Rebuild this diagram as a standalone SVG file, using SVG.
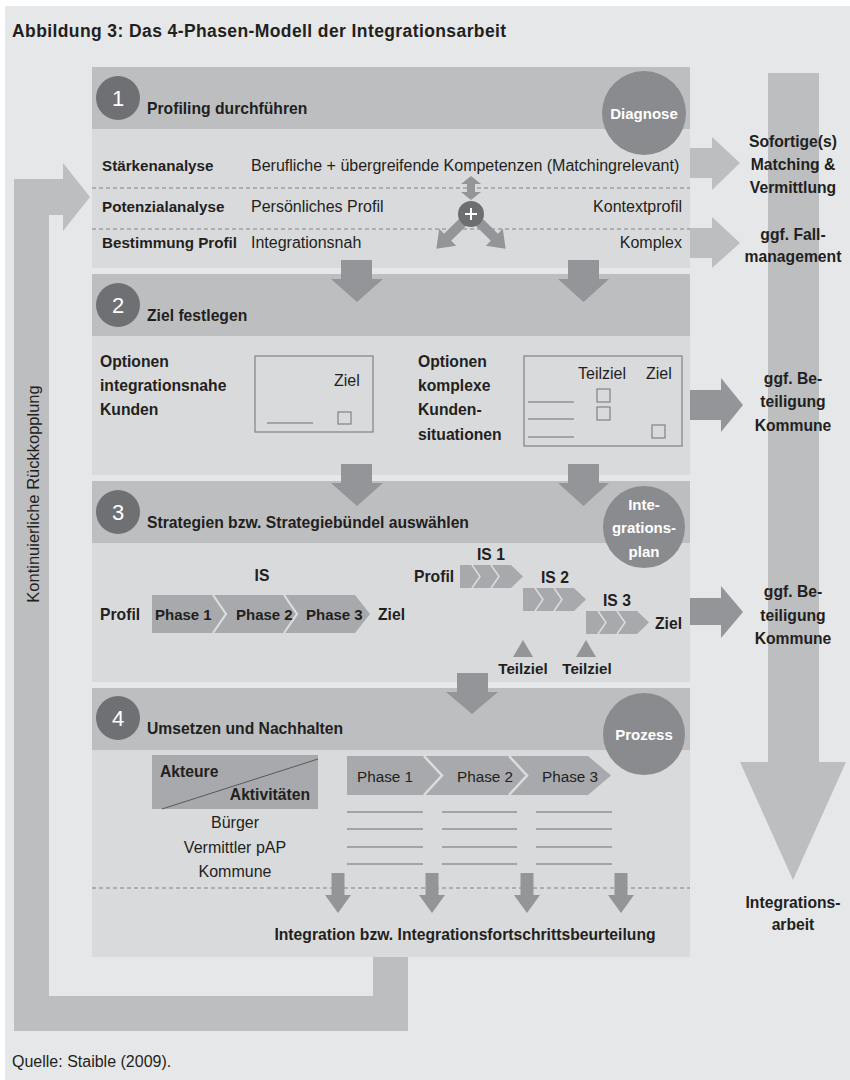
<svg xmlns="http://www.w3.org/2000/svg" width="850" height="1080" viewBox="0 0 850 1080">
<style>
text{font-family:"Liberation Sans",Arial,sans-serif;fill:#231f20}
.b{font-size:15.7px;font-weight:bold}
.r{font-size:16px}
.c{text-anchor:middle}
.e{text-anchor:end}
.w{fill:#ffffff;font-weight:bold;font-size:15px;text-anchor:middle}
.num{fill:#ffffff;font-size:22px;text-anchor:middle}
.band{fill:#bcbec0}
.body{fill:#d9dadc}
.numc{fill:#6f7073}
.bigc{fill:#8a8b8e}
.dark{fill:#939598}
.light{fill:#bcbec0}
.chev{fill:#a7a9ac}
.sep{fill:none;stroke:#dcdddf;stroke-width:2.2}
.dash{stroke:#808285;stroke-width:1;stroke-dasharray:4 3}
.box{fill:none;stroke:#808285;stroke-width:1.2}
.ln{stroke:#6d6e71;stroke-width:1.2}
</style>
<rect x="5" y="6" width="845" height="1074" fill="#e6e7e8"/>
<text x="12" y="37" style="font-size:17.5px;font-weight:bold;letter-spacing:0.4px">Abbildung 3: Das 4-Phasen-Modell der Integrationsarbeit</text>

<g id="feedback-loop">
<path class="light" d="M14,1031 L408,1031 L408,957 L373,957 L373,996 L49,996 L49,215 L63,215 L63,231 L90,197 L63,163 L63,179 L14,179 Z"/>
<text class="r" transform="translate(39,494) rotate(-90)" text-anchor="middle" style="font-size:16.5px">Kontinuierliche Rückkopplung</text>
</g>

<g id="integrationsarbeit">
<path class="light" d="M768,73 L819,73 L819,762 L846,762 L793,880 L740,762 L768,762 Z"/>
</g>

<g id="phase1">
<rect class="band" x="92" y="67" width="598" height="62"/>
<rect class="body" x="92" y="129" width="598" height="139"/>
<circle class="numc" cx="118" cy="98" r="22"/>
<text class="num" x="118" y="106">1</text>
<text class="b" x="147" y="114">Profiling durchführen</text>
<line class="dash" x1="92" y1="188" x2="690" y2="188"/>
<line class="dash" x1="92" y1="229" x2="690" y2="229"/>
<text class="b" x="102" y="171" style="font-size:15.2px">Stärkenanalyse</text>
<text class="b" x="102" y="212" style="font-size:15.2px">Potenzialanalyse</text>
<text class="b" x="102" y="248" style="font-size:15.2px">Bestimmung Profil</text>
<text class="r" x="251" y="171">Berufliche + übergreifende Kompetenzen (Matchingrelevant)</text>
<text class="r" x="251" y="212">Persönliches Profil</text>
<text class="r" x="251" y="248">Integrationsnah</text>
<text class="r e" x="682" y="212">Kontextprofil</text>
<text class="r e" x="682" y="248">Komplex</text>
<path class="dark" d="M471,176 L481,184 L475,184 L475,192 L481,192 L471,200 L461,192 L467,192 L467,184 L461,184 Z"/>
<path class="dark" transform="translate(471,214) rotate(135)" d="M12,-5 L33,-5 L33,-12 L49,0 L33,12 L33,5 L12,5 Z"/>
<path class="dark" transform="translate(471,214) rotate(45)" d="M12,-5 L33,-5 L33,-12 L49,0 L33,12 L33,5 L12,5 Z"/>
<circle cx="471" cy="214" r="13" fill="#6d6e71"/>
<path d="M471,208 V220 M465,214 H477" stroke="#ffffff" stroke-width="2"/>
<circle class="bigc" cx="644" cy="113" r="42"/>
<text class="w" x="644" y="119">Diagnose</text>
</g>

<g id="phase2">
<rect class="band" x="92" y="274" width="598" height="62"/>
<rect class="body" x="92" y="336" width="598" height="139"/>
<circle class="numc" cx="118" cy="305" r="22"/>
<text class="num" x="118" y="313">2</text>
<text class="b" x="147" y="321">Ziel festlegen</text>
<text class="b" x="100" y="367">Optionen</text>
<text class="b" x="100" y="391">integrationsnahe</text>
<text class="b" x="100" y="415">Kunden</text>
<rect class="box" x="255" y="356" width="118" height="76"/>
<text class="r" x="334" y="386">Ziel</text>
<line class="ln" x1="267" y1="423" x2="313" y2="423"/>
<rect class="box" x="338" y="412" width="13" height="12"/>
<text class="b" x="418" y="367">Optionen</text>
<text class="b" x="418" y="391">komplexe</text>
<text class="b" x="418" y="415">Kunden-</text>
<text class="b" x="418" y="440">situationen</text>
<rect class="box" x="524" y="356" width="158" height="90"/>
<text class="r" x="578" y="379">Teilziel</text>
<text class="r" x="646" y="379">Ziel</text>
<line class="ln" x1="528" y1="402" x2="574" y2="402"/>
<line class="ln" x1="528" y1="419" x2="574" y2="419"/>
<line class="ln" x1="528" y1="437" x2="574" y2="437"/>
<rect class="box" x="597" y="389" width="13" height="13"/>
<rect class="box" x="597" y="407" width="13" height="13"/>
<rect class="box" x="652" y="425" width="13" height="13"/>
</g>

<g id="phase3">
<rect class="band" x="92" y="481" width="598" height="62"/>
<rect class="body" x="92" y="543" width="598" height="139"/>
<circle class="numc" cx="118" cy="512" r="22"/>
<text class="num" x="118" y="520">3</text>
<text class="b" x="147" y="528">Strategien bzw. Strategiebündel auswählen</text>
<text class="b c" x="262" y="581">IS</text>
<text class="b" x="100" y="620">Profil</text>
<path class="chev" d="M152,595 L355,595 L370,614 L355,633 L152,633 Z"/>
<polyline class="sep" points="213,595 226,614 213,633"/>
<polyline class="sep" points="284,595 297,614 284,633"/>
<text class="b" x="155" y="620" style="font-size:15px">Phase 1</text>
<text class="b" x="236" y="620" style="font-size:15px">Phase 2</text>
<text class="b" x="306" y="620" style="font-size:15px">Phase 3</text>
<text class="b" x="378" y="620">Ziel</text>
<text class="b" x="477" y="560">IS 1</text>
<text class="b" x="414" y="582">Profil</text>
<g id="is1">
<path class="chev" d="M460,565 L511,565 L523,576.5 L511,588 L460,588 Z"/>
<polyline class="sep" points="472,565 480,576.5 472,588" style="stroke-width:1.5"/>
<polyline class="sep" points="491,565 499,576.5 491,588" style="stroke-width:1.5"/>
</g>
<text class="b" x="541" y="583">IS 2</text>
<g id="is2" transform="translate(63,23)">
<path class="chev" d="M460,565 L511,565 L523,576.5 L511,588 L460,588 Z"/>
<polyline class="sep" points="472,565 480,576.5 472,588" style="stroke-width:1.5"/>
<polyline class="sep" points="491,565 499,576.5 491,588" style="stroke-width:1.5"/>
</g>
<text class="b" x="603" y="606">IS 3</text>
<g id="is3" transform="translate(126,46)">
<path class="chev" d="M460,565 L511,565 L523,576.5 L511,588 L460,588 Z"/>
<polyline class="sep" points="472,565 480,576.5 472,588" style="stroke-width:1.5"/>
<polyline class="sep" points="491,565 499,576.5 491,588" style="stroke-width:1.5"/>
</g>
<text class="b" x="655" y="629">Ziel</text>
<path class="dark" d="M523,640 L533,657 L513,657 Z"/>
<path class="dark" d="M586,640 L596,657 L576,657 Z"/>
<text class="b c" x="523" y="674" style="font-size:15.2px">Teilziel</text>
<text class="b c" x="587" y="674" style="font-size:15.2px">Teilziel</text>
<circle class="bigc" cx="644" cy="527" r="41"/>
<text class="w" x="644" y="510">Inte-</text>
<text class="w" x="644" y="533">grations-</text>
<text class="w" x="644" y="557">plan</text>
</g>

<g id="phase4">
<rect class="band" x="92" y="688" width="598" height="62"/>
<rect class="body" x="92" y="750" width="598" height="207"/>
<circle class="numc" cx="118" cy="718" r="22"/>
<text class="num" x="118" y="726">4</text>
<text class="b" x="147" y="734">Umsetzen und Nachhalten</text>
<circle class="bigc" cx="644" cy="734" r="41"/>
<text class="w" x="644" y="740">Prozess</text>
<rect class="chev" x="152" y="755" width="166" height="54"/>
<line x1="162" y1="809" x2="318" y2="759" stroke="#58595b" stroke-width="1"/>
<text class="b" x="160" y="777">Akteure</text>
<text class="b e" x="310" y="800">Aktivitäten</text>
<text class="r c" x="235" y="828">Bürger</text>
<text class="r c" x="235" y="853">Vermittler pAP</text>
<text class="r c" x="235" y="877">Kommune</text>
<path class="chev" d="M347,756 L588,756 L611,775.5 L588,795 L347,795 Z"/>
<polyline class="sep" points="424,756 442,775.5 424,795" style="stroke-width:2.5"/>
<polyline class="sep" points="509,756 527,775.5 509,795" style="stroke-width:2.5"/>
<text class="r" x="357" y="782" style="font-size:15.3px">Phase 1</text>
<text class="r" x="457" y="782" style="font-size:15.3px">Phase 2</text>
<text class="r" x="542" y="782" style="font-size:15.3px">Phase 3</text>
<g id="activity-lines">
<line class="ln" x1="347" y1="812" x2="423" y2="812"/>
<line class="ln" x1="347" y1="829" x2="423" y2="829"/>
<line class="ln" x1="347" y1="847" x2="423" y2="847"/>
<line class="ln" x1="347" y1="864" x2="423" y2="864"/>
<line class="ln" x1="442" y1="812" x2="517" y2="812"/>
<line class="ln" x1="442" y1="829" x2="517" y2="829"/>
<line class="ln" x1="442" y1="847" x2="517" y2="847"/>
<line class="ln" x1="442" y1="864" x2="517" y2="864"/>
<line class="ln" x1="536" y1="812" x2="612" y2="812"/>
<line class="ln" x1="536" y1="829" x2="612" y2="829"/>
<line class="ln" x1="536" y1="847" x2="612" y2="847"/>
<line class="ln" x1="536" y1="864" x2="612" y2="864"/>
</g>
<line class="dash" x1="92" y1="888" x2="690" y2="888"/>
<text class="b c" x="465" y="940">Integration bzw. Integrationsfortschrittsbeurteilung</text>
</g>

<g id="connectors">
<path class="light" d="M690,148 L712,148 L712,137 L740,163 L712,190 L712,178 L690,178 Z"/>
<path class="light" d="M690,228 L712,228 L712,217 L740,243 L712,268 L712,258 L690,258 Z"/>
<path class="dark" d="M690,390 L721,390 L721,378 L743,405 L721,432 L721,420 L690,420 Z"/>
<path class="dark" d="M690,598 L721,598 L721,586 L743,612 L721,638 L721,625 L690,625 Z"/>
<path class="dark" d="M341,260 L372,260 L372,279 L383,279 L357,302 L331,279 L341,279 Z"/>
<path class="dark" d="M568,260 L599,260 L599,279 L609,279 L583.5,302 L558,279 L568,279 Z"/>
<path class="dark" d="M341,464 L372,464 L372,483 L383,483 L357,506 L331,483 L341,483 Z"/>
<path class="dark" d="M568,464 L599,464 L599,483 L609,483 L583.5,506 L558,483 L568,483 Z"/>
<path class="dark" d="M457,673 L488,673 L488,692 L498,692 L472,714 L446,692 L457,692 Z"/>
<path class="dark" d="M331.5,873 L344.5,873 L344.5,895 L351,895 L338,913 L325,895 L331.5,895 Z"/>
<path class="dark" d="M425.5,873 L438.5,873 L438.5,895 L445,895 L432,913 L419,895 L425.5,895 Z"/>
<path class="dark" d="M520.5,873 L533.5,873 L533.5,895 L540,895 L527,913 L514,895 L520.5,895 Z"/>
<path class="dark" d="M614.5,873 L627.5,873 L627.5,895 L634,895 L621,913 L608,895 L614.5,895 Z"/>
</g>

<g id="outcomes">
<text class="b c" x="793" y="147">Sofortige(s)</text>
<text class="b c" x="793" y="170">Matching &amp;</text>
<text class="b c" x="793" y="193">Vermittlung</text>
<text class="b c" x="793" y="240">ggf. Fall-</text>
<text class="b c" x="793" y="262">management</text>
<text class="b c" x="793" y="384">ggf. Be-</text>
<text class="b c" x="793" y="407">teiligung</text>
<text class="b c" x="793" y="431">Kommune</text>
<text class="b c" x="793" y="597">ggf. Be-</text>
<text class="b c" x="793" y="621">teiligung</text>
<text class="b c" x="793" y="644">Kommune</text>
<text class="b c" x="793" y="908">Integrations-</text>
<text class="b c" x="793" y="930">arbeit</text>
</g>

<text class="r" x="12" y="1067">Quelle: Staible (2009).</text>
</svg>
